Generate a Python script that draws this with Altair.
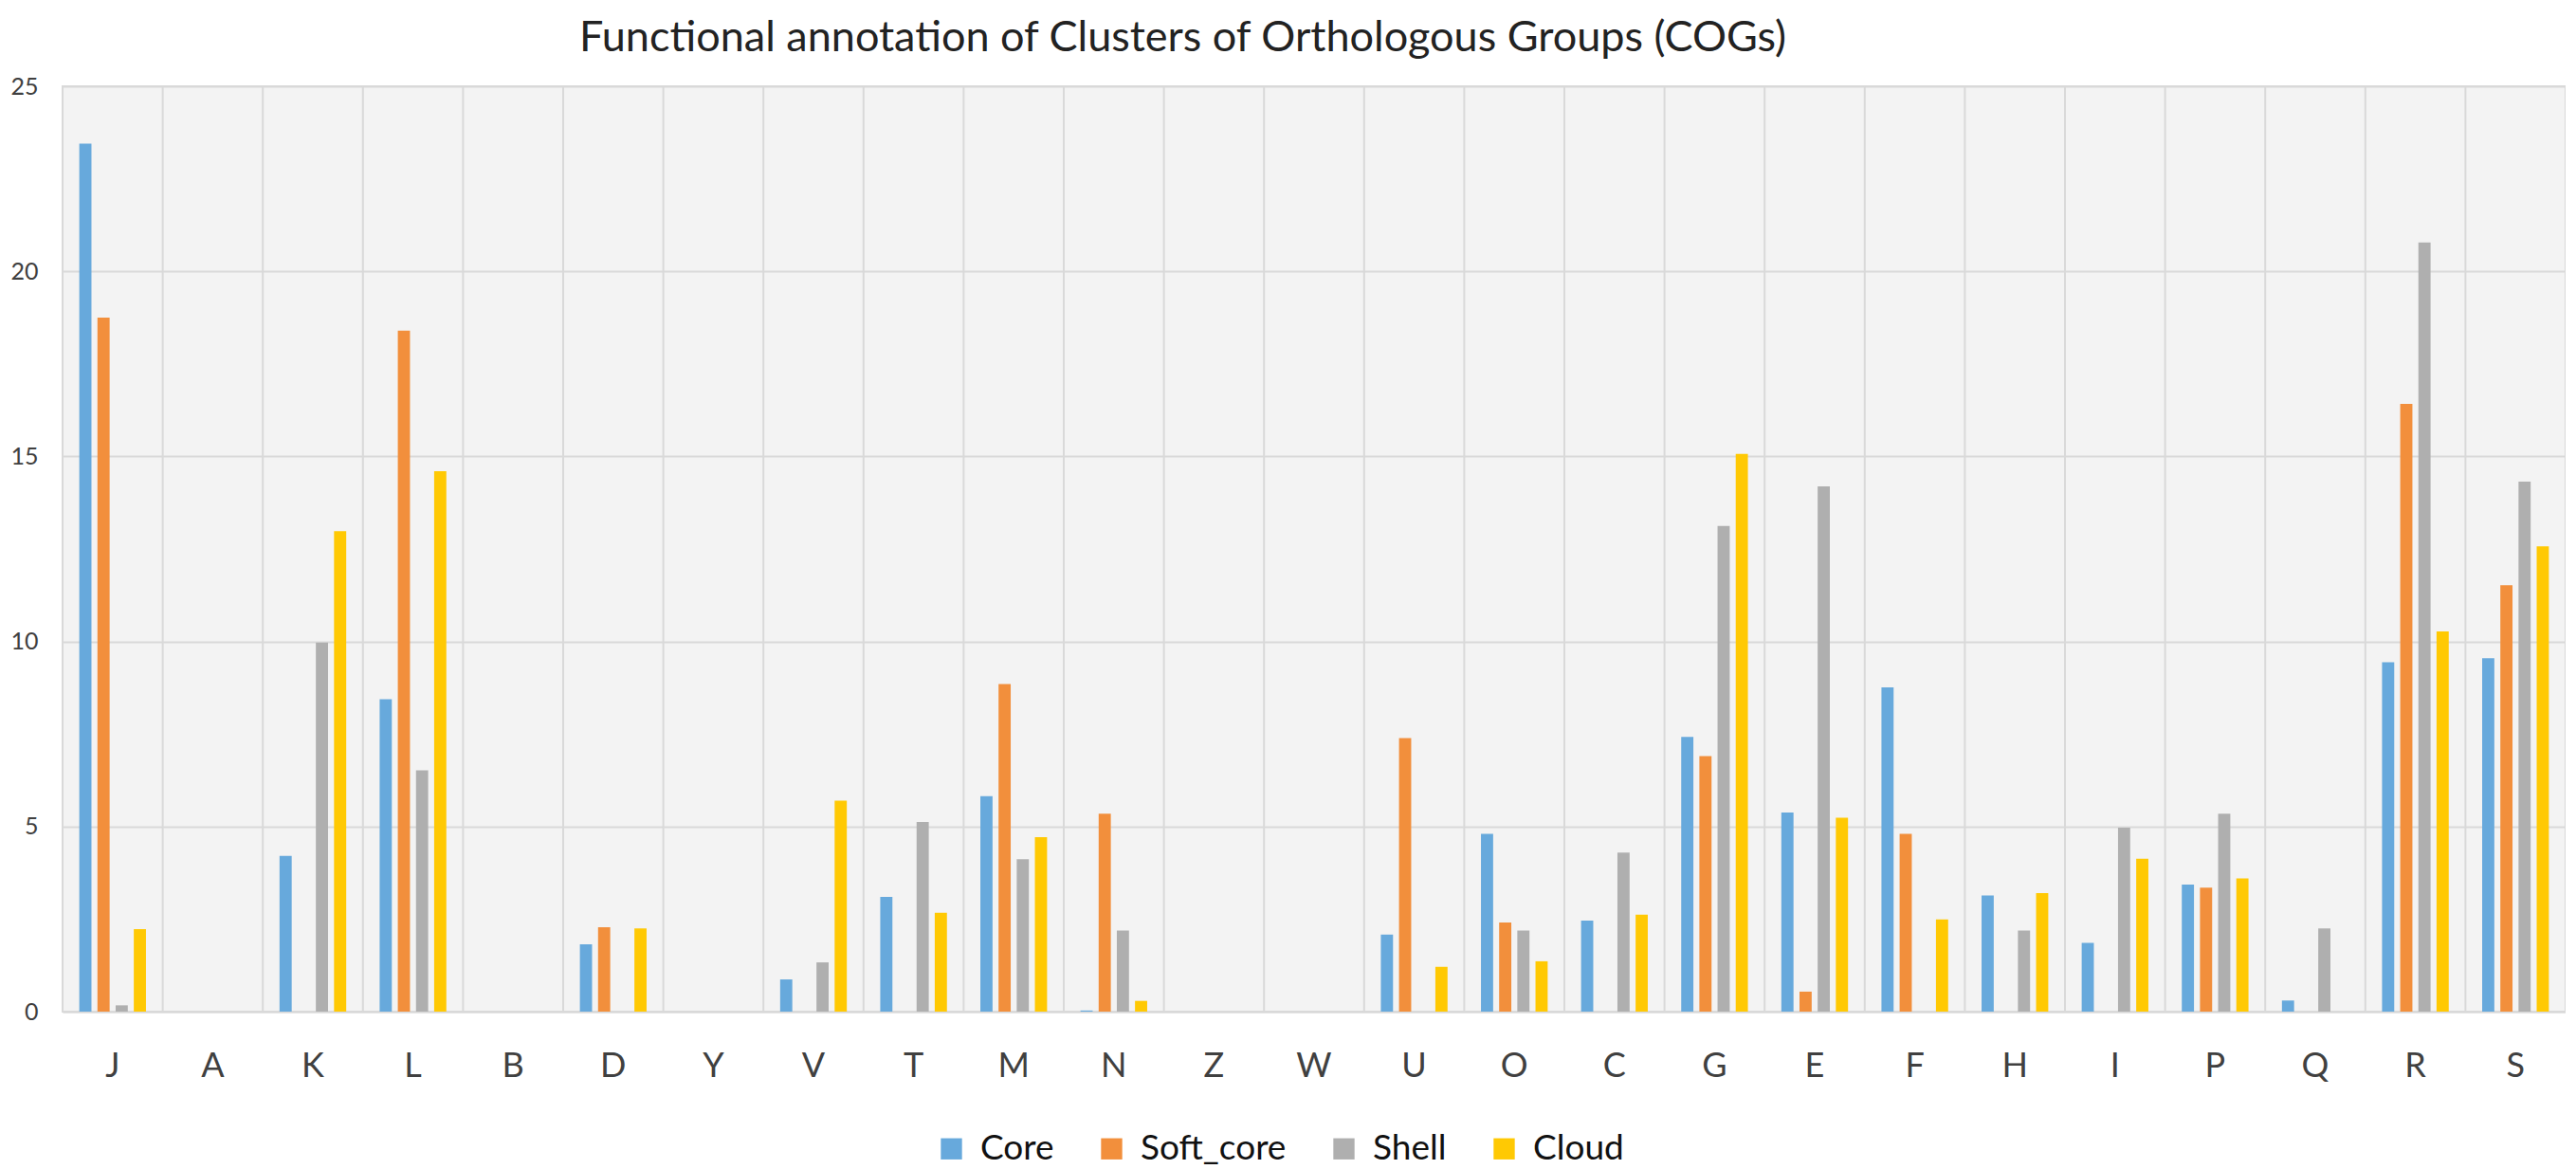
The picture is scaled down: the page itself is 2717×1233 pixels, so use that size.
import altair as alt
import pandas as pd

categories = ["J", "A", "K", "L", "B", "D", "Y", "V", "T", "M", "N", "Z", "W",
              "U", "O", "C", "G", "E", "F", "H", "I", "P", "Q", "R", "S"]
series = ["Core", "Soft_core", "Shell", "Cloud"]

core = [23.45, 0, 4.21, 8.44, 0, 1.82, 0, 0.87, 3.10, 5.82, 0.03, 0, 0,
        2.08, 4.80, 2.46, 7.42, 5.38, 8.76, 3.14, 1.86, 3.43, 0.30, 9.44, 9.55]
soft_core = [18.75, 0, 0, 18.40, 0, 2.28, 0, 0, 0, 8.85, 5.35, 0, 0,
             7.39, 2.41, 0, 6.90, 0.54, 4.80, 0, 0, 3.35, 0, 16.42, 11.52]
shell = [0.17, 0, 9.97, 6.52, 0, 0, 0, 1.33, 5.12, 4.12, 2.19, 0, 0,
         0, 2.19, 4.30, 13.12, 14.19, 0, 2.19, 4.97, 5.35, 2.25, 20.78, 14.32]
cloud = [2.23, 0, 12.98, 14.60, 0, 2.25, 0, 5.70, 2.67, 4.71, 0.29, 0, 0,
         1.21, 1.36, 2.62, 15.07, 5.24, 2.49, 3.20, 4.13, 3.60, 0, 10.27, 12.57]

colors = ["#67A9DC", "#F28F3C", "#AFAFAF", "#FFC903"]
y_ticks = [0, 5, 10, 15, 20, 25]
title_text = "Functional annotation of Clusters of Orthologous Groups (COGs)"

rows = []
for name, vals in zip(series, [core, soft_core, shell, cloud]):
    for c, v in zip(categories, vals):
        rows.append({"category": c, "series": name, "value": v})
df = pd.DataFrame(rows)
grid_df = pd.DataFrame({"category": categories})

x_axis = alt.Axis(title=None, labelAngle=0, ticks=False, grid=False,
                  labelFontSize=36, labelColor="#404040", labelPadding=40,
                  domainColor="#D9D9D9", domainWidth=2)
x_scale = alt.Scale(domain=categories, paddingInner=0, paddingOuter=0)

vlines = alt.Chart(grid_df).mark_rule(color="#D9D9D9", strokeWidth=2).encode(
    x=alt.X("category:N", sort=categories, scale=x_scale, axis=x_axis, bandPosition=0)
)

bars = alt.Chart(df).mark_bar().encode(
    x=alt.X("category:N", sort=categories, scale=x_scale, axis=x_axis),
    xOffset=alt.XOffset("series:N", sort=series,
                        scale=alt.Scale(domain=series, paddingInner=0.33, paddingOuter=0.92)),
    y=alt.Y("value:Q", scale=alt.Scale(domain=[0, 25]),
            axis=alt.Axis(values=y_ticks, title=None, ticks=False, domain=False,
                          gridColor="#D9D9D9", gridWidth=2, labelFontSize=25,
                          labelColor="#404040", labelPadding=26)),
    color=alt.Color("series:N", sort=series,
                    scale=alt.Scale(domain=series, range=colors),
                    legend=alt.Legend(orient="none", legendX=919, legendY=1102,
                                      direction="horizontal", title=None,
                                      symbolType="square", symbolSize=500,
                                      labelFontSize=37, labelColor="#111111",
                                      labelOffset=12, columnPadding=42, padding=0,
                                      symbolStrokeWidth=0)),
)

chart = alt.layer(vlines, bars).properties(
    width=2640,
    height=976,
    padding={"left": 2, "top": 10, "right": 0, "bottom": 0},
    title=alt.TitleParams(title_text, fontSize=45, fontWeight="normal",
                          color="#222222", offset=16, anchor="start", dx=600),
).configure(font="Lato").configure_view(
    fill="#F3F3F3", stroke="#D9D9D9", strokeWidth=2
)

chart.save("out.html", embed_options={"renderer": "svg", "actions": False})
